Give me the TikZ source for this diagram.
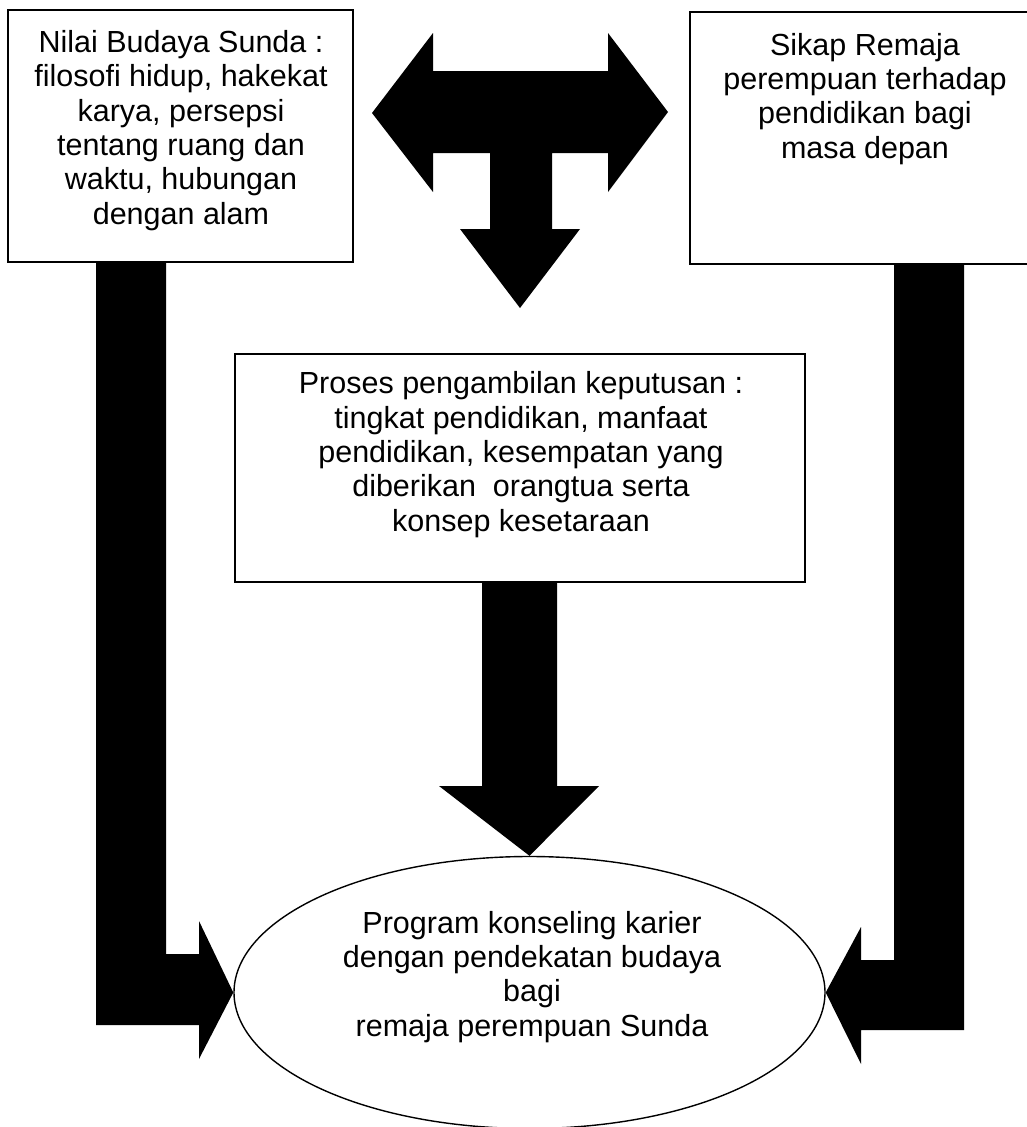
\documentclass[tikz,border=0pt]{standalone}
\usepackage{fontspec}
\setmainfont{Liberation Sans}
\usetikzlibrary{shapes.geometric}
\tikzset{
  boxnode/.style={draw=black, line width=1.6pt, fill=white, inner sep=0pt, anchor=north west},
  txtnode/.style={align=center, inner sep=0pt, anchor=base, font=\fontsize{30.5}{34.3}\selectfont},
  blockarrow/.style={fill=black, draw=none},
  ovalnode/.style={draw=black, line width=1.4pt, ellipse, inner sep=0pt, fill=white}
}
\begin{document}
\begin{tikzpicture}[x=1pt, y=-1pt]
\useasboundingbox (0,0) rectangle (1026,1127);
\fill[white] (0,0) rectangle (1026,1127);

% boxes
\node[boxnode, minimum width=345pt, minimum height=252pt] (nilai) at (7,9) {};
\node[boxnode, minimum width=352pt, minimum height=252pt] (sikap) at (689,11) {};
\node[boxnode, minimum width=570pt, minimum height=228pt] (proses) at (234,353) {};
\node[ovalnode, minimum width=591pt, minimum height=272pt] (prog) at (529.5,992.5) {};

% texts (anchor = baseline of the last line)
\node[txtnode] (nilaitxt) at (181,224) {Nilai Budaya Sunda :\\filosofi hidup, hakekat\\karya, persepsi\\tentang ruang dan\\waktu, hubungan\\dengan alam};
\node[txtnode] (sikaptxt) at (865,158) {Sikap Remaja\\perempuan terhadap\\pendidikan bagi\\masa depan};
\node[txtnode] (prosestxt) at (521,531) {Proses pengambilan keputusan :\\tingkat pendidikan, manfaat\\pendidikan, kesempatan yang\\diberikan\ \ orangtua serta\\konsep kesetaraan};
\node[txtnode] (progtxt) at (532,1036) {Program konseling karier\\dengan pendekatan budaya\\bagi\\remaja perempuan Sunda};

% T-shaped triple arrow between the top boxes
\coordinate (tleft) at (372,113);
\coordinate (tright) at (668,112);
\coordinate (tdown) at (520,308);
\fill[blockarrow] (tleft) -- (433,33) -- (433,71) -- (608,71) -- (608,33) -- (tright)
  -- (608,192) -- (608,153) -- (552,153) -- (552,229) -- (580,229) -- (tdown)
  -- (460,229) -- (490,229) -- (490,153) -- (433,153) -- (433,192) -- cycle;

% middle down arrow: proses -> prog
\fill[blockarrow] (482,581) -- (557,581) -- (557,786) -- (599,786) -- (prog.north)
  -- (439,786) -- (482,786) -- cycle;

% left L arrow: nilai -> prog
\fill[blockarrow] (96,261) -- (166,261) -- (166,954) -- (199,954) -- (199,921)
  -- (prog.west) -- (199,1059) -- (199,1025) -- (96,1025) -- cycle;

% right L arrow: sikap -> prog
\fill[blockarrow] (894,263) -- (964,263) -- (964,1030) -- (861,1030) -- (861,1064)
  -- (prog.east) -- (861,927) -- (861,960) -- (894,960) -- cycle;
\end{tikzpicture}
\end{document}
